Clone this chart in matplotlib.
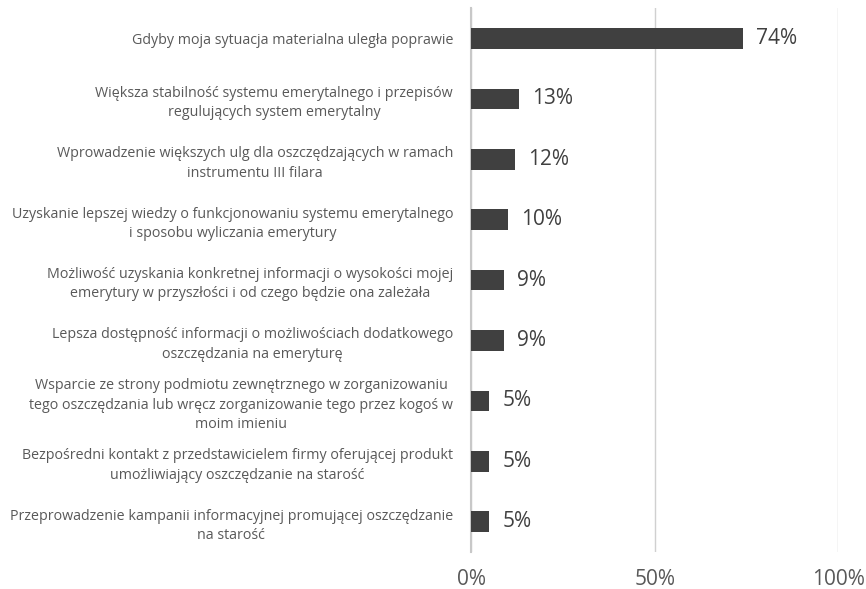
import matplotlib.pyplot as plt

# categories (top to bottom) and shares
categories = [
    "Gdyby moja sytuacja materialna uległa poprawie",
    "Większa stabilność systemu emerytalnego i przepisów\nregulujących system emerytalny",
    "Wprowadzenie większych ulg dla oszczędzających w ramach\ninstrumentu III filara",
    "Uzyskanie lepszej wiedzy o funkcjonowaniu systemu emerytalnego\ni sposobu wyliczania emerytury",
    "Możliwość uzyskania konkretnej informacji o wysokości mojej\nemerytury w przyszłości i od czego będzie ona zależała",
    "Lepsza dostępność informacji o możliwościach dodatkowego\noszczędzania na emeryturę",
    "Wsparcie ze strony podmiotu zewnętrznego w zorganizowaniu\ntego oszczędzania lub wręcz zorganizowanie tego przez kogoś w\nmoim imieniu",
    "Bezpośredni kontakt z przedstawicielem firmy oferującej produkt\numożliwiający oszczędzanie na starość",
    "Przeprowadzenie kampanii informacyjnej promującej oszczędzanie\nna starość",
]
values = [74, 13, 12, 10, 9, 9, 5, 5, 5]
xticks = [0, 50, 100]

plt.rcParams['font.family'] = ['Open Sans', 'DejaVu Sans']

fig = plt.figure(figsize=(8.66, 5.89), dpi=100)
ax = fig.add_axes([0.544, 0.063, 0.424, 0.923])

y = list(range(len(categories)))
ax.barh(y, values, height=0.34, color='#404040', zorder=3)
ax.set_ylim(len(categories) - 0.5, -0.5)
ax.set_xlim(0, 100)

for yi, v in zip(y, values):
    ax.text(v + 3.5, yi, f"{v}%", va='center', ha='left', fontsize=15, color='#404040')

ax.set_yticks(y)
ax.set_yticklabels(categories, fontsize=10.3, color='#595959', ha='right',
                   multialignment='center', linespacing=1.4)
ax.tick_params(axis='y', length=0, pad=13)

ax.set_xticks(xticks)
ax.set_xticklabels([f"{t}%" for t in xticks], fontsize=15, color='#595959')
ax.tick_params(axis='x', length=0, pad=12)

ax.grid(axis='x', color='#d0d0d0', linewidth=1, zorder=0)
for s in ['top', 'right', 'bottom']:
    ax.spines[s].set_visible(False)
ax.spines['left'].set_color('#c8c8c8')
ax.spines['left'].set_linewidth(1.5)

fig.savefig('out.png', dpi=100)
